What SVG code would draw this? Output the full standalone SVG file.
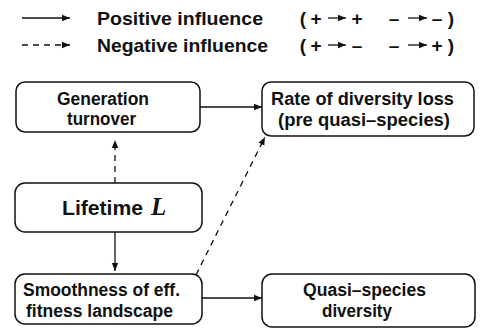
<svg xmlns="http://www.w3.org/2000/svg" width="480" height="329" viewBox="0 0 480 329">
  <style>
    .box { fill: #fff; stroke: #111; stroke-width: 1.5; }
    .lbl { font-family: "Liberation Sans", Arial, sans-serif; font-weight: bold; font-size: 17.5px; fill: #111; }
    .leg { font-family: "Liberation Sans", Arial, sans-serif; font-weight: bold; font-size: 19px; fill: #111; }
    .sym { font-family: "Liberation Sans", Arial, sans-serif; font-weight: bold; font-size: 19px; fill: #111; text-anchor: middle; }
    .solid { stroke: #111; stroke-width: 1.3; fill: none; marker-end: url(#head); }
    .dash { stroke: #111; stroke-width: 1.3; fill: none; stroke-dasharray: 6 5; marker-end: url(#head); }
    .mini { stroke: #111; stroke-width: 1.3; fill: none; marker-end: url(#head); }
  </style>
  <defs>
    <marker id="head" viewBox="0 0 10 10" refX="10" refY="5" markerWidth="8" markerHeight="8" markerUnits="userSpaceOnUse" orient="auto">
      <path d="M0,1 L10,5 L0,9 z" fill="#111"/>
    </marker>
  </defs>

  <!-- legend -->
  <g id="legend">
    <line class="solid" x1="22" y1="18" x2="70" y2="18"/>
    <text class="leg" x="97" y="25" textLength="166" lengthAdjust="spacingAndGlyphs">Positive influence</text>
    <text class="sym" x="303" y="25">(</text>
    <text class="sym" x="316" y="25">+</text>
    <line class="mini" x1="328" y1="18" x2="346" y2="18"/>
    <text class="sym" x="357" y="25">+</text>
    <text class="sym" x="394" y="25">–</text>
    <line class="mini" x1="408" y1="18" x2="427" y2="18"/>
    <text class="sym" x="437" y="25">–</text>
    <text class="sym" x="451" y="25">)</text>

    <line class="dash" x1="22" y1="45" x2="70" y2="45"/>
    <text class="leg" x="97" y="52" textLength="171" lengthAdjust="spacingAndGlyphs">Negative influence</text>
    <text class="sym" x="303" y="52">(</text>
    <text class="sym" x="316" y="52">+</text>
    <line class="mini" x1="328" y1="45" x2="346" y2="45"/>
    <text class="sym" x="357" y="52">–</text>
    <text class="sym" x="394" y="52">–</text>
    <line class="mini" x1="408" y1="45" x2="427" y2="45"/>
    <text class="sym" x="437" y="52">+</text>
    <text class="sym" x="451" y="52">)</text>
  </g>

  <!-- connectors -->
  <g id="connectors">
    <line class="solid" x1="200" y1="107" x2="262" y2="107"/>
    <line class="dash" x1="115" y1="183" x2="115" y2="140"/>
    <line class="solid" x1="115" y1="232" x2="115" y2="271"/>
    <line class="solid" x1="202" y1="298" x2="262" y2="298"/>
    <line class="dash" x1="196" y1="275" x2="265" y2="137"/>
  </g>

  <!-- nodes -->
  <g id="generation-turnover">
    <rect class="box" x="16" y="82" width="184" height="50" rx="9"/>
    <text class="lbl" x="57" y="105" textLength="92" lengthAdjust="spacingAndGlyphs">Generation</text>
    <text class="lbl" x="67" y="125" textLength="69" lengthAdjust="spacingAndGlyphs">turnover</text>
  </g>
  <g id="rate-of-diversity-loss">
    <rect class="box" x="262" y="82" width="212" height="54" rx="9"/>
    <text class="lbl" x="271" y="105" textLength="183" lengthAdjust="spacingAndGlyphs">Rate of diversity loss</text>
    <text class="lbl" x="278" y="126" textLength="172" lengthAdjust="spacingAndGlyphs">(pre quasi–species)</text>
  </g>
  <g id="lifetime">
    <rect class="box" x="15" y="183" width="187" height="49" rx="10"/>
    <text x="62" y="215" textLength="81" lengthAdjust="spacingAndGlyphs" style="font-family:'Liberation Sans',Arial,sans-serif;font-weight:bold;font-size:21px;fill:#111">Lifetime</text>
    <text x="151" y="215" style="font-family:'Liberation Serif','Times New Roman',serif;font-style:italic;font-weight:bold;font-size:25px;fill:#111">L</text>
  </g>
  <g id="smoothness">
    <rect class="box" x="15" y="274" width="187" height="50" rx="10"/>
    <text class="lbl" x="23" y="296" textLength="157" lengthAdjust="spacingAndGlyphs">Smoothness of eff.</text>
    <text class="lbl" x="26" y="317" textLength="147" lengthAdjust="spacingAndGlyphs">fitness landscape</text>
  </g>
  <g id="quasi-species-diversity">
    <rect class="box" x="262" y="274" width="213" height="53" rx="10"/>
    <text class="lbl" x="303" y="296" textLength="123" lengthAdjust="spacingAndGlyphs">Quasi–species</text>
    <text class="lbl" x="322" y="317" textLength="70" lengthAdjust="spacingAndGlyphs">diversity</text>
  </g>
</svg>
